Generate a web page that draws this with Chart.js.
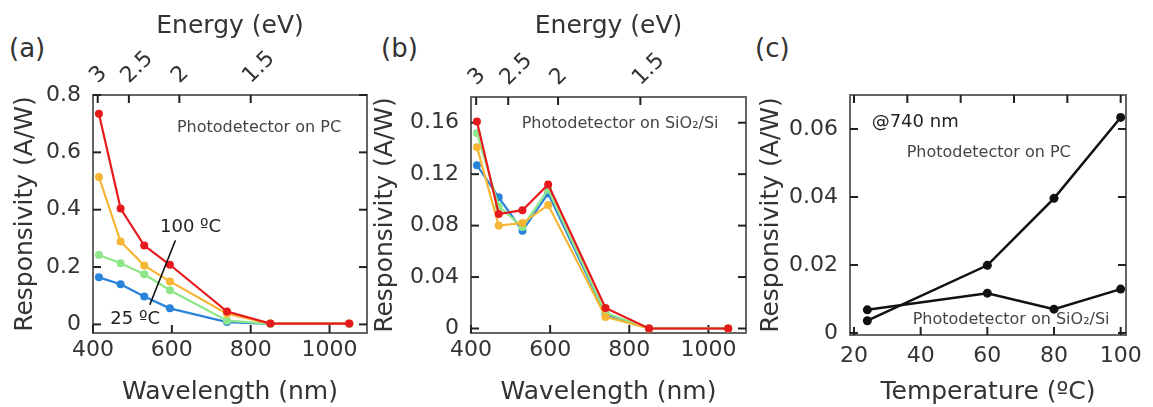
<!DOCTYPE html>
<html>
<head>
<meta charset="utf-8">
<script src="https://cdn.jsdelivr.net/npm/chart.js@4.4.0/dist/chart.umd.min.js"></script>
<style>
  body { margin: 0; background: #fff; width: 1153px; height: 407px; position: relative; overflow: hidden; font-family: "DejaVu Sans", sans-serif; }
  canvas { position: absolute; top: 0; }
  .panel-label { position: absolute; font-size: 26px; color: #333; }
</style>
</head>
<body>
<div class="panel-label" style="left:9px; top:33px;">(a)</div>
<div class="panel-label" style="left:381px; top:33px;">(b)</div>
<div class="panel-label" style="left:755px; top:33px;">(c)</div>
<canvas id="chartA" width="375" height="407" style="left:0px;"></canvas>
<canvas id="chartB" width="382" height="407" style="left:370px;"></canvas>
<canvas id="chartC" width="401" height="407" style="left:752px;"></canvas>
<script>
// Wavelengths (nm) shared by panels (a) and (b)
const wavelengths = [415, 470, 530, 595, 740, 850, 1050];

// (a) photodetector on PC, responsivity (A/W)
const pcResp100 = [0.735, 0.404, 0.275, 0.208, 0.045, 0.003, 0.003];
const pcResp80  = [0.514, 0.289, 0.205, 0.150, 0.037, 0.003, 0.003];
const pcResp60  = [0.242, 0.213, 0.175, 0.119, 0.013, 0.002, 0.002];
const pcResp25  = [0.164, 0.140, 0.097, 0.056, 0.008, 0.002, 0.002];

// (b) photodetector on SiO2/Si, responsivity (A/W)
const siResp100 = [0.161, 0.089, 0.092, 0.112, 0.016, 0.000, 0.000];
const siResp80  = [0.141, 0.080, 0.082, 0.096, 0.009, 0.000, 0.000];
const siResp60  = [0.152, 0.095, 0.079, 0.108, 0.012, 0.000, 0.000];
const siResp25  = [0.127, 0.102, 0.076, 0.105, 0.011, 0.000, 0.000];

// (c) responsivity at 740 nm vs temperature
const temperatures = [24, 60, 80, 100];
const pcAt740 = [0.0036, 0.0199, 0.0396, 0.0634];
const siAt740 = [0.0068, 0.0117, 0.0070, 0.0129];

// tick values / labels
const wavelengthTicks = [400, 600, 800, 1000];
const energyLabels = ['3', '2.5', '2', '1.5'];
const energyPosA = [412, 491, 619, 800];
const energyPosB = [413, 494, 620, 828];
const pcTicks = [0, 0.2, 0.4, 0.6, 0.8];
const siTicks = [0, 0.04, 0.08, 0.12, 0.16];
const tempTicks = [20, 40, 60, 80, 100];
const tempTopTicks = [20, 36, 52, 68, 84, 100];
const c740Ticks = [0, 0.02, 0.04, 0.06];

const colors = { t100: '#e61a1d', t80: '#f6b533', t60: '#8ee68a', t25: '#2a83da' };
const FONT = '"DejaVu Sans", sans-serif';
Chart.defaults.font.family = FONT;
Chart.defaults.color = '#333';

function pts(xs, ys) {
    return xs.map((x, i) => ({ x: x, y: ys[i] }));
}

// box frame + inward tick marks on all four sides
const frameTicks = {
    id: 'frameTicks',
    beforeDatasetsDraw(chart) {
        const ctx = chart.ctx;
        const a = chart.chartArea;
        ctx.save();
        ctx.strokeStyle = '#666';
        ctx.lineWidth = 2;
        ctx.strokeRect(a.left, a.top, a.right - a.left, a.bottom - a.top);
        ctx.strokeStyle = '#222';
        ctx.lineWidth = 2;
        Object.values(chart.scales).forEach(s => {
            s.ticks.forEach(t => {
                const p = s.getPixelForValue(t.value);
                ctx.beginPath();
                if (s.position === 'left') { ctx.moveTo(a.left, p); ctx.lineTo(a.left + 8, p); }
                else if (s.position === 'right') { ctx.moveTo(a.right, p); ctx.lineTo(a.right - 8, p); }
                else if (s.position === 'top') { ctx.moveTo(p, a.top); ctx.lineTo(p, a.top + 8); }
                else { ctx.moveTo(p, a.bottom); ctx.lineTo(p, a.bottom - 8); }
                ctx.stroke();
            });
        });
        ctx.restore();
    }
};

// rotated energy labels on the top axis
function topLabelsPlugin(labels) {
    return {
        id: 'topLabels',
        afterDraw(chart) {
            if (!labels) return;
            const ctx = chart.ctx;
            const s = chart.scales.xTop;
            const top = chart.chartArea.top;
            ctx.save();
            ctx.font = '22px ' + FONT;
            ctx.fillStyle = '#333';
            ctx.textAlign = 'left';
            ctx.textBaseline = 'middle';
            s.ticks.forEach((t, i) => {
                ctx.save();
                ctx.translate(s.getPixelForValue(t.value) - 4, top - 15);
                ctx.rotate(-Math.PI / 4);
                ctx.fillText(labels[i], 0, 0);
                ctx.restore();
            });
            ctx.restore();
        }
    };
}

// text notes placed in data coordinates
function notesPlugin(notes) {
    return {
        id: 'notes',
        afterDatasetsDraw(chart) {
            const ctx = chart.ctx;
            const xs = chart.scales.x, ys = chart.scales.y;
            ctx.save();
            (notes.lines || []).forEach(l => {
                ctx.strokeStyle = '#111';
                ctx.lineWidth = 1.5;
                ctx.beginPath();
                ctx.moveTo(xs.getPixelForValue(l.x1), ys.getPixelForValue(l.y1));
                ctx.lineTo(xs.getPixelForValue(l.x2), ys.getPixelForValue(l.y2));
                ctx.stroke();
            });
            notes.texts.forEach(t => {
                ctx.font = t.size + 'px ' + FONT;
                ctx.fillStyle = t.color || '#444';
                ctx.textAlign = 'left';
                ctx.textBaseline = 'middle';
                ctx.fillText(t.text, xs.getPixelForValue(t.x), ys.getPixelForValue(t.y));
            });
            ctx.restore();
        }
    };
}

function fixedTicks(values) {
    return s => { s.ticks = values.map(v => ({ value: v })); };
}

function makeChart(id, p) {
    const ctx = document.getElementById(id).getContext('2d');
    return new Chart(ctx, {
        type: 'line',
        data: { datasets: p.datasets },
        options: {
            responsive: false,
            animation: false,
            events: [],
            layout: { padding: 0 },
            plugins: { legend: { display: false }, tooltip: { enabled: false } },
            scales: {
                x: {
                    type: 'linear', position: 'bottom', min: p.xMin, max: p.xMax,
                    grid: { display: false }, border: { display: false },
                    afterBuildTicks: fixedTicks(p.xTicks),
                    afterFit: s => { s.height = p.bottom; },
                    ticks: { font: { size: 22 }, color: '#333', padding: p.xTickPad, maxRotation: 0, autoSkip: false,
                             callback: v => String(v) },
                    title: { display: true, text: p.xTitle, font: { size: 25 }, color: '#333', padding: { top: 0, bottom: 0 } }
                },
                xTop: {
                    type: 'linear', position: 'top', min: p.xMin, max: p.xMax,
                    grid: { display: false }, border: { display: false },
                    afterBuildTicks: fixedTicks(p.topTicks),
                    afterFit: s => { s.height = p.top; },
                    ticks: { display: false },
                    title: { display: !!p.topTitle, text: p.topTitle || '', font: { size: 25 }, color: '#333', padding: { top: 11, bottom: 0 } }
                },
                y: {
                    type: 'linear', position: 'left', min: p.yMin, max: p.yMax,
                    grid: { display: false }, border: { display: false },
                    afterBuildTicks: fixedTicks(p.yTicks),
                    afterFit: s => { s.width = p.left; },
                    ticks: { font: { size: 22 }, color: '#333', padding: 4,
                             callback: v => v === 0 ? '0' : v.toFixed(p.yDigits) },
                    title: { display: true, text: 'Responsivity (A/W)', font: { size: 25 }, color: '#333', padding: { top: p.yTitlePad, bottom: 0 } }
                },
                yR: {
                    type: 'linear', position: 'right', min: p.yMin, max: p.yMax,
                    grid: { display: false }, border: { display: false },
                    afterBuildTicks: fixedTicks(p.yTicks),
                    afterFit: s => { s.width = p.right; },
                    ticks: { display: false }
                }
            }
        },
        plugins: [frameTicks, notesPlugin(p.notes), topLabelsPlugin(p.topLabels)]
    });
}

function wlSeries(values, color) {
    return {
        data: pts(wavelengths, values),
        borderColor: color, backgroundColor: color,
        borderWidth: 2.2, pointRadius: 4, pointBorderWidth: 0, tension: 0
    };
}

makeChart('chartA', {
    left: 93, right: 8, top: 95, bottom: 74, xTickPad: -4,
    xMin: 400, xMax: 1095, yMin: -0.03, yMax: 0.8, yDigits: 1, yTitlePad: 10,
    xTicks: wavelengthTicks, topTicks: energyPosA, topLabels: energyLabels, yTicks: pcTicks,
    xTitle: 'Wavelength (nm)', topTitle: 'Energy (eV)',
    datasets: [
        wlSeries(pcResp100, colors.t100),
        wlSeries(pcResp80, colors.t80),
        wlSeries(pcResp60, colors.t60),
        wlSeries(pcResp25, colors.t25)
    ],
    notes: {
        texts: [
            { text: 'Photodetector on PC', x: 613, y: 0.686, size: 16 },
            { text: '100 ºC', x: 570, y: 0.339, size: 18, color: '#222' },
            { text: '25 ºC', x: 444, y: 0.016, size: 18, color: '#222' }
        ],
        lines: [ { x1: 544, y1: 0.068, x2: 609, y2: 0.293 } ]
    }
});

makeChart('chartB', {
    left: 101, right: 6, top: 97, bottom: 74, xTickPad: -4,
    xMin: 400, xMax: 1095, yMin: -0.0035, yMax: 0.18, yDigits: 2, yTitlePad: 0,
    xTicks: wavelengthTicks, topTicks: energyPosB, topLabels: energyLabels, yTicks: siTicks,
    xTitle: 'Wavelength (nm)', topTitle: 'Energy (eV)',
    datasets: [
        wlSeries(siResp100, colors.t100),
        wlSeries(siResp80, colors.t80),
        wlSeries(siResp60, colors.t60),
        wlSeries(siResp25, colors.t25)
    ],
    notes: {
        texts: [ { text: 'Photodetector on SiO₂/Si', x: 528, y: 0.159, size: 16 } ]
    }
});

function tSeries(values) {
    return {
        data: pts(temperatures, values),
        borderColor: '#111', backgroundColor: '#111',
        borderWidth: 2.5, pointRadius: 4.5, pointBorderWidth: 0, tension: 0
    };
}

makeChart('chartC', {
    left: 98, right: 27, top: 95, bottom: 72, xTickPad: 0,
    xMin: 18.8, xMax: 101.6, yMin: -0.0006, yMax: 0.07, yDigits: 2, yTitlePad: 4,
    xTicks: tempTicks, topTicks: tempTopTicks, topLabels: null, yTicks: c740Ticks,
    xTitle: 'Temperature (ºC)', topTitle: null,
    datasets: [ tSeries(pcAt740), tSeries(siAt740) ],
    notes: {
        texts: [
            { text: '@740 nm', x: 25.3, y: 0.0621, size: 18, color: '#222' },
            { text: 'Photodetector on PC', x: 35.8, y: 0.053, size: 16 },
            { text: 'Photodetector on SiO₂/Si', x: 37.6, y: 0.0038, size: 16 }
        ]
    }
});
</script>
</body>
</html>
